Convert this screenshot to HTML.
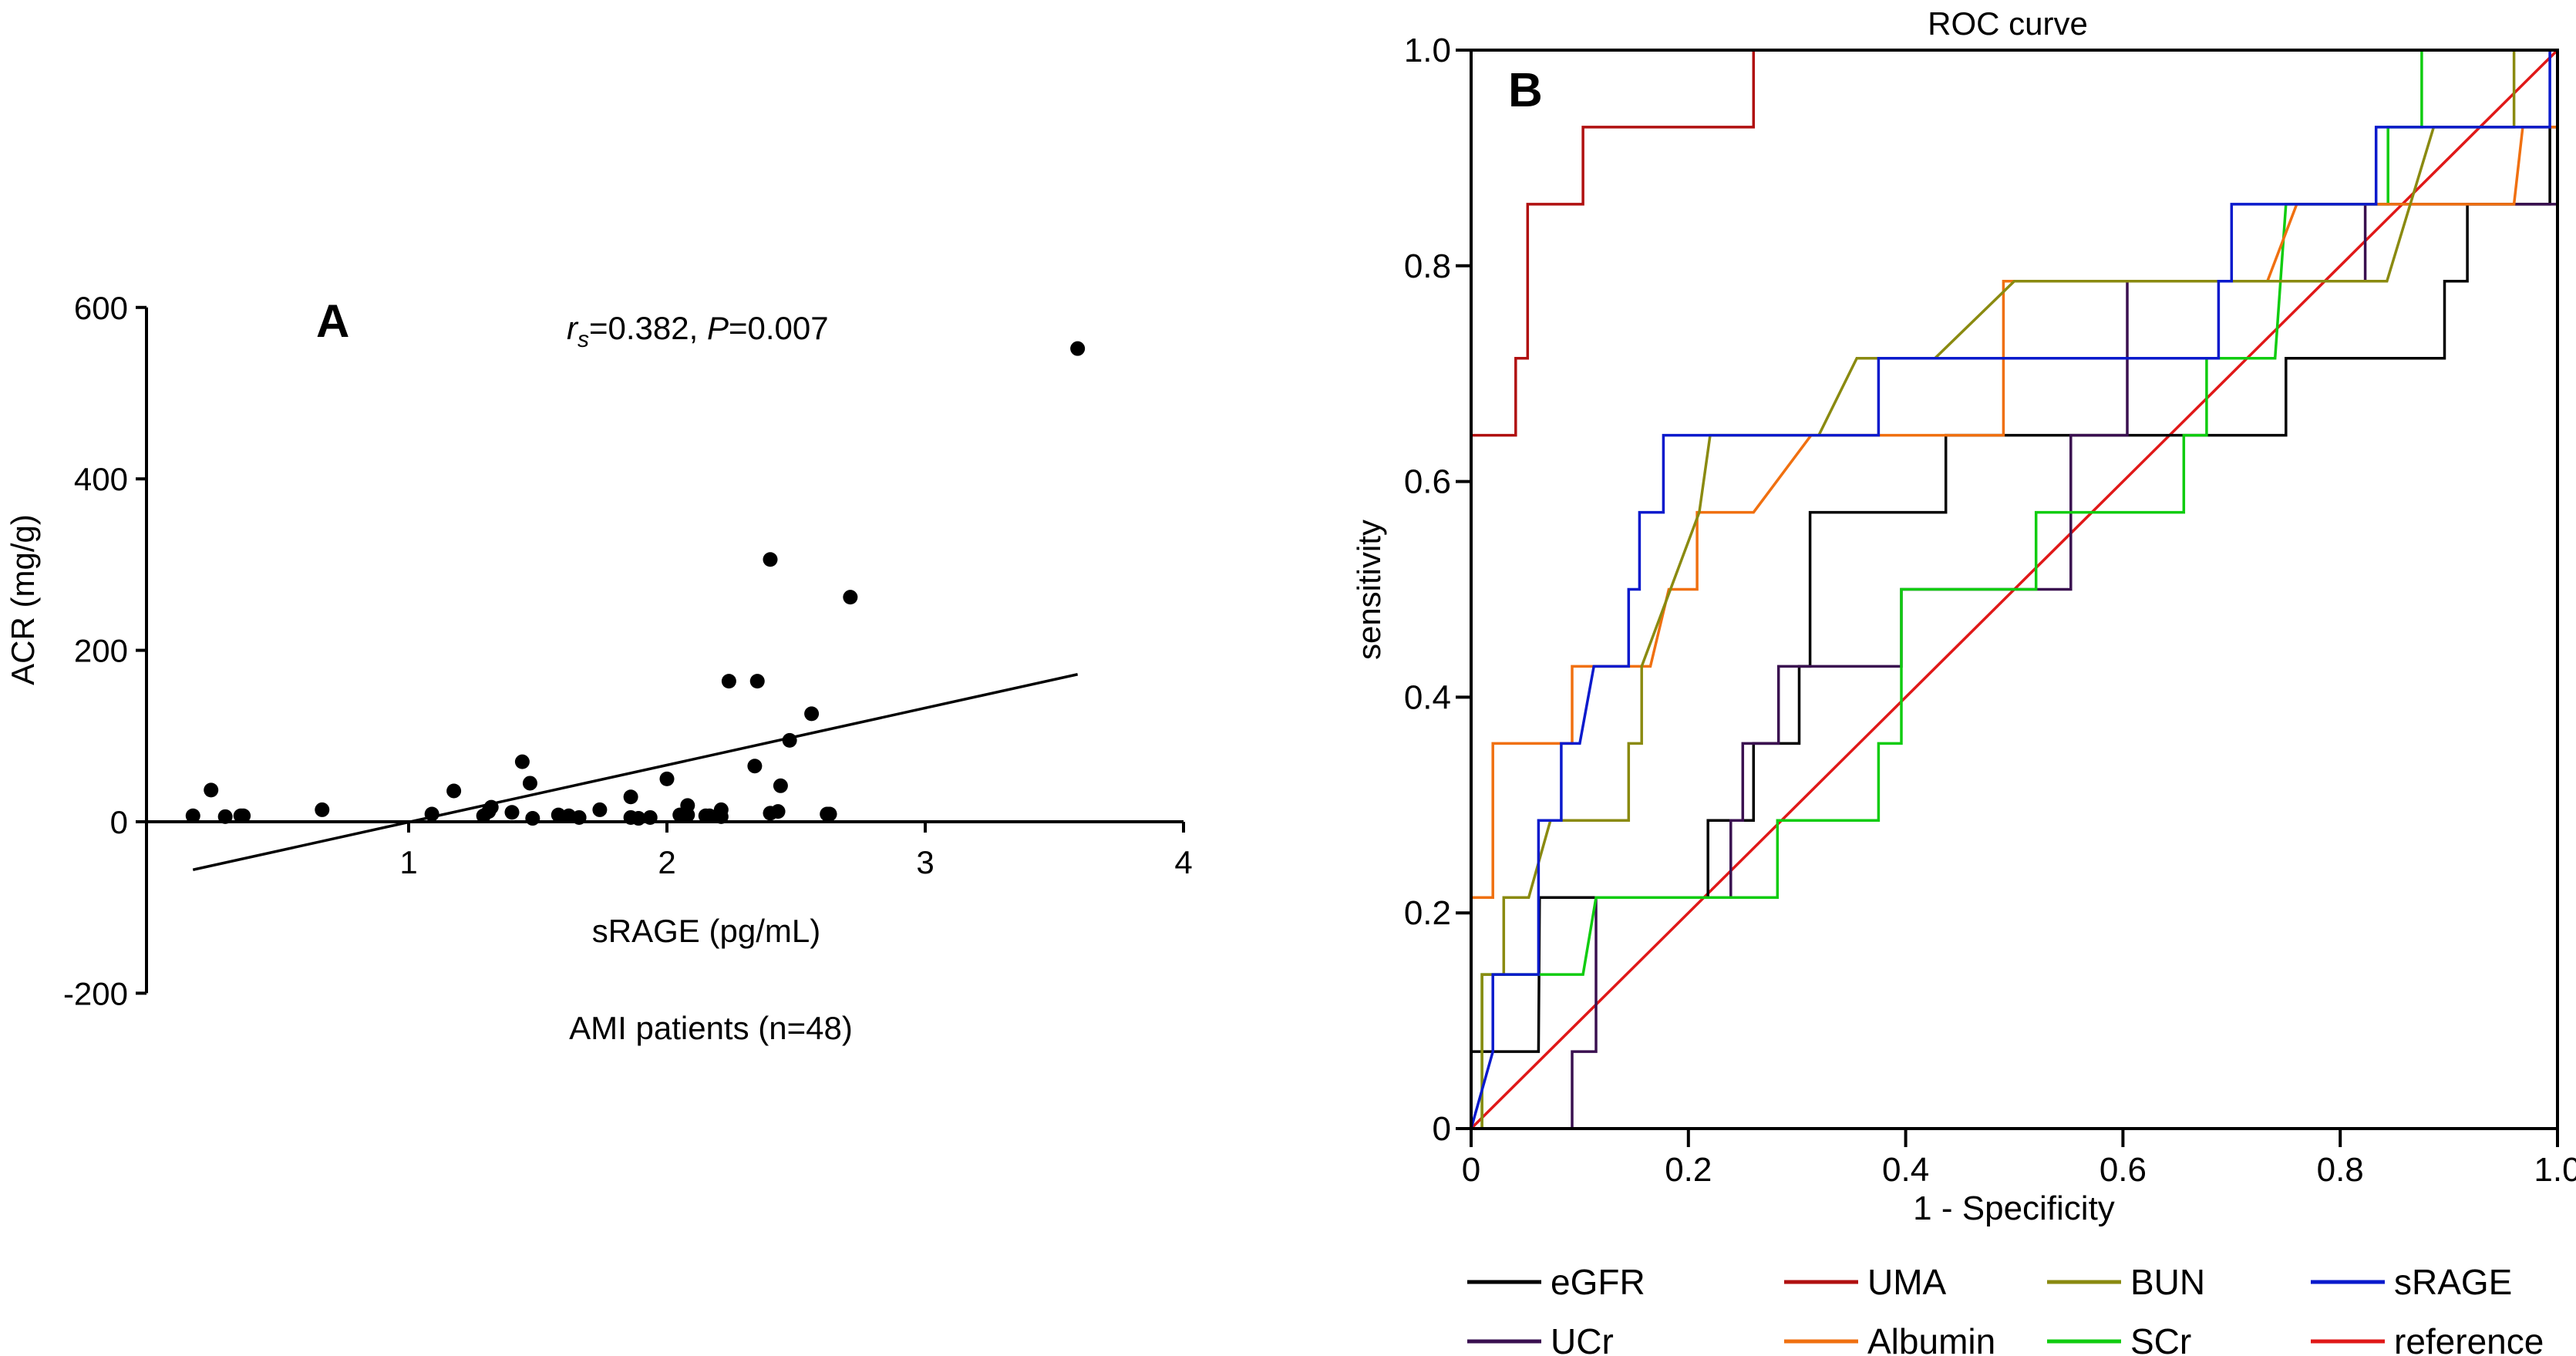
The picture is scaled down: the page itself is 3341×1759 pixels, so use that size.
<!DOCTYPE html>
<html><head><meta charset="utf-8"><style>
html,body{margin:0;padding:0;background:#fff;}
svg{display:block;font-family:"Liberation Sans",Arial,sans-serif;}
</style></head><body>
<svg id="fig" width="3341" height="1759" viewBox="0 0 3341 1759" xmlns="http://www.w3.org/2000/svg">
<g id="panelA"></g>
<g id="panelB"></g>
</svg>
<script>
// ---------- Panel A data ----------
const sragePoints = [0.165,0.235,0.29,0.35,0.36,0.665,1.09,1.175,1.29,1.31,1.32,1.40,1.44,1.47,1.48,1.58,1.62,1.66,1.74,1.86,1.86,1.89,1.935,2.0,2.05,2.08,2.08,2.15,2.165,2.21,2.21,2.24,2.35,2.34,2.40,2.40,2.43,2.44,2.475,2.56,2.62,2.63,2.71,3.59];
const acrPoints = [7,37,6,7,7,14,9,36,7,12,17,11,70,45,4,8,7,5,14,29,5,4,5,50,8,19,8,7,7,14,6,164,164,65,10,306,12,42,95,126,9,9,262,552];
const fitX = [0.165,3.59];
const fitY = [-56,172];
const aYTicks = [600,400,200,0,-200];
const aXTicks = [1,2,3,4];

// ---------- Panel B data ----------
const rocFpr = {
 eGFR:[0,0,0.062,0.063,0.218,0.218,0.26,0.26,0.302,0.302,0.312,0.312,0.437,0.437,0.75,0.75,0.896,0.896,0.917,0.917,0.993,0.993,1],
 UCr:[0,0.093,0.093,0.115,0.115,0.239,0.239,0.25,0.25,0.283,0.283,0.396,0.396,0.552,0.552,0.604,0.604,0.823,0.823,1,1],
 SCr:[0,0.01,0.01,0.103,0.115,0.282,0.282,0.375,0.375,0.396,0.396,0.52,0.52,0.656,0.656,0.677,0.677,0.74,0.75,0.844,0.844,0.875,0.875,1],
 Albumin:[0,0,0.02,0.02,0.093,0.093,0.165,0.182,0.208,0.208,0.26,0.313,0.49,0.49,0.733,0.76,0.96,0.968,0.993,1],
 BUN:[0,0.01,0.01,0.03,0.03,0.053,0.073,0.145,0.145,0.157,0.157,0.21,0.22,0.32,0.355,0.427,0.5,0.843,0.886,0.96,0.96,1],
 sRAGE:[0,0.02,0.02,0.062,0.062,0.083,0.083,0.1,0.113,0.145,0.145,0.155,0.155,0.177,0.177,0.375,0.375,0.688,0.688,0.7,0.7,0.833,0.833,0.993,0.993,1],
 UMA:[0,0,0.041,0.041,0.052,0.052,0.103,0.103,0.26,0.26,1],
 reference:[0,1]
};
const rocTprCount = {
 eGFR:[0,1,1,3,3,4,4,5,5,6,6,8,8,9,9,10,10,11,11,12,12,13,13],
 UCr:[0,0,1,1,3,3,4,4,5,5,6,6,7,7,9,9,11,11,12,12,14],
 SCr:[0,0,2,2,3,3,4,4,5,5,7,7,8,8,9,9,10,10,12,12,13,13,14,14],
 Albumin:[0,3,3,5,5,6,6,7,7,8,8,9,9,11,11,12,12,13,13,13],
 BUN:[0,0,2,2,3,3,4,4,5,5,6,8,9,9,10,10,11,11,13,13,14,14],
 sRAGE:[0,1,2,2,4,4,5,5,6,6,7,7,8,8,9,9,10,10,11,11,12,12,13,13,14,14],
 UMA:[0,9,9,10,10,12,12,13,13,14,14],
 reference:[0,14]
};
const rocSeries = ["reference","eGFR","UCr","SCr","Albumin","BUN","sRAGE","UMA"];
const rocColors = {eGFR:"#000000",UMA:"#b01010",BUN:"#8a8a10",sRAGE:"#0a1acc",UCr:"#3a1050",Albumin:"#f07010",SCr:"#10cc10",reference:"#e01818"};
const legendOrder = ["eGFR","UMA","BUN","sRAGE","UCr","Albumin","SCr","reference"];
const bTicks = [0,0.2,0.4,0.6,0.8,1.0];
const bTickLabels = ["0","0.2","0.4","0.6","0.8","1.0"];

const NS="http://www.w3.org/2000/svg";
function mk(tag,attrs,parent,text){const e=document.createElementNS(NS,tag);for(const k in attrs)e.setAttribute(k,attrs[k]);if(text!==undefined)e.textContent=text;parent.appendChild(e);return e;}

// ---------- Panel A ----------
const A=document.getElementById('panelA');
const ax=v=>195+v*335;
const ay=v=>1066-v*1.112;
let e;
e=mk('line',{x1:190,y1:ay(600),x2:190,y2:ay(-200),stroke:'#000','stroke-width':4},A);


e=mk('line',{x1:190,y1:ay(0),x2:ax(4),y2:ay(0),stroke:'#000','stroke-width':4},A);


aYTicks.forEach(t=>{
 mk('line',{x1:176,y1:ay(t),x2:190,y2:ay(t),stroke:'#000','stroke-width':4},A);
 e=mk('text',{x:166,y:ay(t)+15,'text-anchor':'end','font-size':42},A,String(t));
 
 
});
aXTicks.forEach(t=>{
 mk('line',{x1:ax(t),y1:ay(0),x2:ax(t),y2:ay(0)+14,stroke:'#000','stroke-width':4},A);
 e=mk('text',{x:ax(t),y:1133,'text-anchor':'middle','font-size':42},A,String(t));
 
 
});
e=mk('line',{x1:ax(fitX[0]),y1:ay(fitY[0]),x2:ax(fitX[1]),y2:ay(fitY[1]),stroke:'#000','stroke-width':3.5},A);


sragePoints.forEach((x,i)=>{
 e=mk('circle',{cx:ax(x),cy:ay(acrPoints[i]),r:9.5,fill:'#000'},A);
 
 
});
e=mk('text',{x:0,y:0,transform:'translate(44,778) rotate(-90)','text-anchor':'middle','font-size':42},A,'ACR (mg/g)');


e=mk('text',{x:916,y:1222,'text-anchor':'middle','font-size':42},A,'sRAGE (pg/mL)');


e=mk('text',{x:922,y:1348,'text-anchor':'middle','font-size':42},A,'AMI patients (n=48)');


e=mk('text',{x:410,y:437,'font-size':60,'font-weight':'bold'},A,'A');


const st=mk('text',{x:735,y:440,'font-size':42},A);


mk('tspan',{'font-style':'italic'},st,'r');
mk('tspan',{'font-style':'italic','font-size':30,dy:10},st,'s');
mk('tspan',{dy:-10},st,'=0.382, ');
mk('tspan',{'font-style':'italic'},st,'P');
mk('tspan',{},st,'=0.007');

// ---------- Panel B ----------
const B=document.getElementById('panelB');
const bx=v=>1908+v*1409;
const by=v=>1464-v*1399;
rocSeries.forEach(s=>{
 const pts=rocFpr[s].map((f,i)=>bx(f).toFixed(1)+','+by(rocTprCount[s][i]/14).toFixed(1)).join(' ');
 e=mk('polyline',{points:pts,fill:'none',stroke:rocColors[s],'stroke-width':3.5,'stroke-linejoin':'miter'},B);
 
 
});
e=mk('rect',{x:bx(0),y:by(1),width:1409,height:1399,fill:'none',stroke:'#000','stroke-width':4},B);


bTicks.forEach((t,i)=>{
 mk('line',{x1:bx(t),y1:by(0),x2:bx(t),y2:by(0)+24,stroke:'#000','stroke-width':4},B);
 mk('line',{x1:bx(0)-20,y1:by(t),x2:bx(0),y2:by(t),stroke:'#000','stroke-width':4},B);
 e=mk('text',{x:bx(t),y:1532,'text-anchor':'middle','font-size':44},B,bTickLabels[i]);
 
 
 e=mk('text',{x:1882,y:by(t)+15,'text-anchor':'end','font-size':44},B,bTickLabels[i]);
 
 
});
e=mk('text',{x:2612,y:1582,'text-anchor':'middle','font-size':44},B,'1 - Specificity');


e=mk('text',{x:0,y:0,transform:'translate(1790,765) rotate(-90)','text-anchor':'middle','font-size':42},B,'sensitivity');


e=mk('text',{x:2604,y:45,'text-anchor':'middle','font-size':42},B,'ROC curve');


e=mk('text',{x:1956,y:138,'font-size':62,'font-weight':'bold'},B,'B');


const colX=[1903,2314,2655,2997];
legendOrder.forEach((s,i)=>{
 const cx=colX[i%4], cy=i<4?1663:1740;
 const g=mk('g',{},B);
 
 
 mk('line',{x1:cx,y1:cy,x2:cx+96,y2:cy,stroke:rocColors[s],'stroke-width':5},g);
 mk('text',{x:cx+108,y:cy+16,'font-size':46},g,s);
});
</script>
</body></html>
